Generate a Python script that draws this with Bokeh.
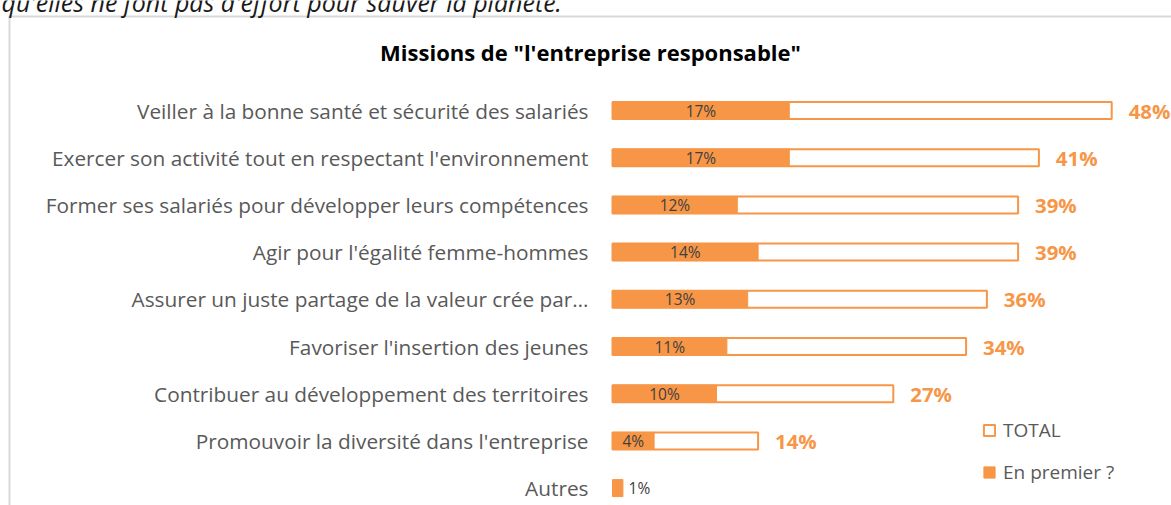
from bokeh.plotting import figure
from bokeh.models import Range1d, ColumnDataSource, Legend, LegendItem
from bokeh.core.properties import value
from bokeh.embed import file_html
from bokeh.resources import INLINE

# ---------------- data ----------------
categories = [
    "Veiller à la bonne santé et sécurité des salariés",
    "Exercer son activité tout en respectant l'environnement",
    "Former ses salariés pour développer leurs compétences",
    "Agir pour l'égalité femme-hommes",
    "Assurer un juste partage de la valeur crée par…",
    "Favoriser l'insertion des jeunes",
    "Contribuer au développement des territoires",
    "Promouvoir la diversité dans l'entreprise",
    "Autres",
]
total_pct = [48, 41, 39, 39, 36, 34, 27, 14, None]
first_pct = [17, 17, 12, 14, 13, 11, 10, 4, 1]
series_names = ["TOTAL", "En premier ?"]
chart_title = 'Missions de "l\'entreprise responsable"'
intro_text = "qu'elles ne font pas d'effort pour sauver la planète."

# ---------------- layout ----------------
W, H = 1171, 505
PAGE_X0, PAGE_Y0 = 0, 0
BAR_X0 = 612          # page x of 0%
PX_PER_PCT = 10.4
ROW0_Y = 110          # page y of first row centre
ROW_GAP = 47.2

def dx(px):  # page x -> data x
    return (px - BAR_X0) / PX_PER_PCT

def dy(py):  # page y -> data y (row index)
    return (py - ROW0_Y) / ROW_GAP

ORANGE = "#F79646"
GREY = "#595959"
DARK = "#404040"
FONT = "Open Sans"

p = figure(
    width=W, height=H,
    x_range=Range1d(dx(PAGE_X0), dx(PAGE_X0 + W)),
    y_range=Range1d(dy(PAGE_Y0 + H), dy(PAGE_Y0)),
    output_backend="svg", toolbar_location=None,
    x_axis_location=None, y_axis_location=None,
    min_border=0,
)
p.grid.visible = False
p.outline_line_color = None
p.background_fill_color = "white"
p.border_fill_color = "white"

rows = list(range(len(categories)))

# border of the chart area (top and left)
p.line([dx(8), dx(PAGE_X0 + W)], [dy(16), dy(16)], line_color="#D9D9D9", line_width=2)
p.line([dx(9), dx(9)], [dy(16), dy(PAGE_Y0 + H)], line_color="#D9D9D9", line_width=2)

# cut-off intro text at the very top
p.text(x=[dx(1)], y=[dy(1)], text=[intro_text], text_font=value(FONT),
       text_font_style="italic", text_font_size="25px", text_color="#1a1a1a",
       text_align="left", text_baseline="alphabetic")

# title
p.text(x=[dx(590)], y=[dy(51)], text=[chart_title], text_font=value(FONT),
       text_font_style="bold", text_font_size="22px", text_color="black",
       text_align="center", text_baseline="middle")

# category labels
p.text(x=[dx(588)] * len(categories), y=rows, text=categories, text_font=value(FONT),
       text_font_size="20.8px", text_color=GREY, text_align="right", text_baseline="middle")

# bars
tot_rows = [i for i in rows if total_pct[i] is not None]
tot_src = ColumnDataSource(dict(y=tot_rows, right=[total_pct[i] for i in tot_rows]))
first_src = ColumnDataSource(dict(y=rows, right=first_pct))

BAR_H = 17 / ROW_GAP
r_total = p.hbar(y="y", left=0, right="right", height=BAR_H, source=tot_src,
                 fill_color="white", line_color=ORANGE, line_width=2)
r_first = p.hbar(y="y", left=0, right="right", height=BAR_H, source=first_src,
                 fill_color=ORANGE, line_color=ORANGE, line_width=1)

# total labels
p.text(x=[total_pct[i] + 1.63 for i in tot_rows], y=tot_rows,
       text=[f"{total_pct[i]}%" for i in tot_rows], text_font=value(FONT),
       text_font_style="bold", text_font_size="20.4px", text_color=ORANGE,
       text_align="left", text_baseline="middle")

# "en premier" labels
inside = [i for i in rows if first_pct[i] >= 3]
outside = [i for i in rows if first_pct[i] < 3]
p.text(x=[first_pct[i] / 2 for i in inside], y=inside,
       text=[f"{first_pct[i]}%" for i in inside], text_font=value(FONT),
       text_font_size="15.5px", text_color=DARK, text_align="center", text_baseline="middle")
p.text(x=[first_pct[i] + 0.55 for i in outside], y=outside,
       text=[f"{first_pct[i]}%" for i in outside], text_font=value(FONT),
       text_font_size="15.5px", text_color=DARK, text_align="left", text_baseline="middle")

legend = Legend(
    items=[LegendItem(label=series_names[0], renderers=[r_total]),
           LegendItem(label=series_names[1], renderers=[r_first])],
    location=(982 - PAGE_X0, PAGE_Y0 + H - 485),
    orientation="vertical",
    glyph_width=14, glyph_height=14, label_height=20, spacing=16,
    label_standoff=7, padding=0, margin=0,
    border_line_alpha=0, background_fill_alpha=0,
    label_text_font=FONT, label_text_font_size="19px", label_text_color=GREY,
)
p.add_layout(legend)

open("out.html", "w").write(file_html(p, INLINE))
